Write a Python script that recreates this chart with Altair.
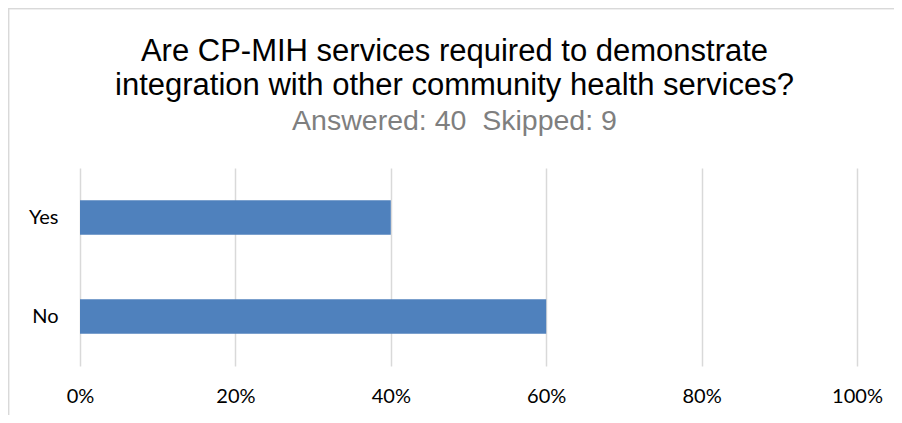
import altair as alt
import pandas as pd

categories = ["Yes", "No"]
values = [0.40, 0.60]

title_lines = ["Are CP-MIH services required to demonstrate",
               "integration with other community health services?"]
subtitle = "Answered: 40\u00a0\u00a0Skipped: 9"

df = pd.DataFrame({"answer": categories, "share": values})

bars = alt.Chart(df).mark_bar(color="#4f81bd").encode(
    x=alt.X("share:Q",
            scale=alt.Scale(domain=[0, 1], nice=False),
            axis=alt.Axis(format="%", values=[0, 0.2, 0.4, 0.6, 0.8, 1.0],
                          title=None, domain=False, ticks=False, labelFlush=False,
                          grid=True, gridColor="#d9d9d9", gridWidth=1.5,
                          labelFont="Lato", labelFontSize=20, labelColor="#000000",
                          labelPadding=20)),
    y=alt.Y("answer:N", sort=categories,
            scale=alt.Scale(paddingInner=0.65, paddingOuter=0.325),
            axis=alt.Axis(title=None, domain=False, ticks=False,
                          labelFont="Lato", labelFontSize=20, labelColor="#000000",
                          labelPadding=22)),
)

frame_left = alt.Chart(df).mark_rule(color="#d9d9d9", strokeWidth=1.5, clip=False).encode(
    x=alt.value(-71.5), y=alt.value(-160), y2=alt.value(260))
frame_top = alt.Chart(df).mark_rule(color="#d9d9d9", strokeWidth=1.5, clip=False).encode(
    x=alt.value(-72), x2=alt.value(830), y=alt.value(-159.5))

chart = alt.layer(frame_left, frame_top, bars).properties(
    width=777, height=198,
    autosize=alt.AutoSizeParams(type="none"),
    padding={"left": 72, "top": 160, "right": 37, "bottom": 49},
    title=alt.TitleParams(
        text=title_lines, subtitle=subtitle,
        font="Liberation Sans", fontSize=31, fontWeight="normal", color="#000000",
        lineHeight=34, subtitleFont="Liberation Sans", subtitleFontSize=28.5,
        subtitleColor="#7f7f7f", subtitlePadding=5,
        anchor="middle", frame="group", dx=-14, dy=129, offset=0),
).configure_view(stroke=None)

chart.save("out.html", embed_options={"renderer": "svg", "actions": False})
